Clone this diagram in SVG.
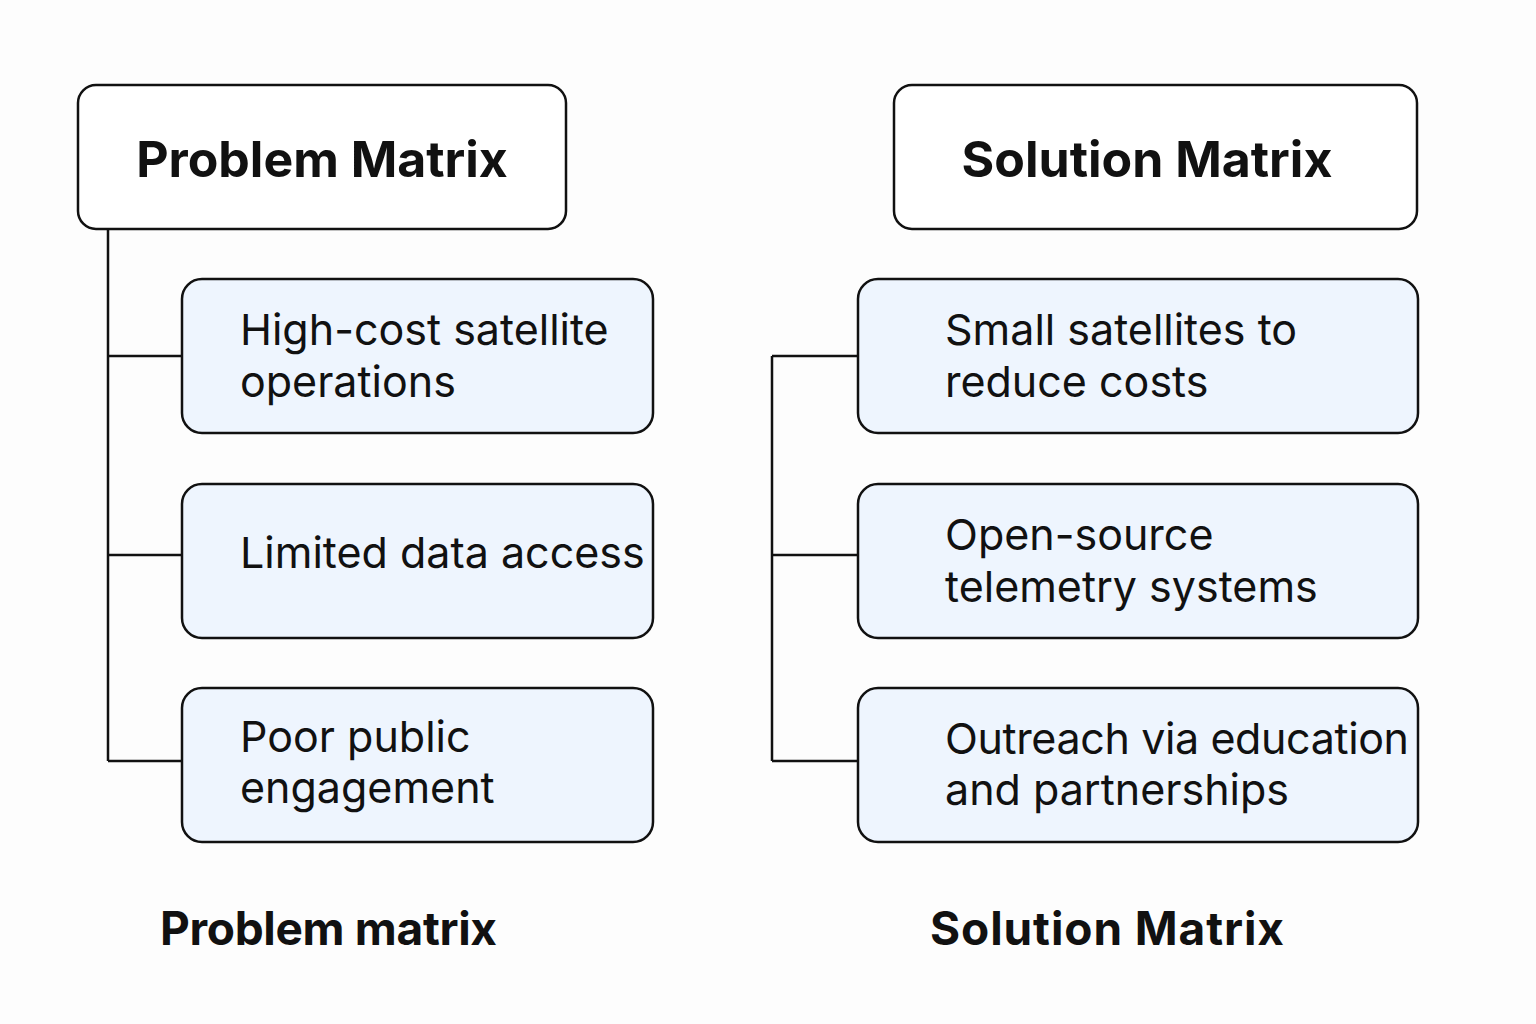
<svg xmlns="http://www.w3.org/2000/svg" width="1536" height="1024" viewBox="0 0 1536 1024">
<style>
.head{fill:#ffffff;stroke:#111;stroke-width:2.5}
.item{fill:#eef5fe;stroke:#111;stroke-width:2.5}
.conn{fill:none;stroke:#111;stroke-width:2.5}
.t{font-family:Inter,"Liberation Sans",sans-serif;font-size:43px;fill:#111}
.h{font-family:Inter,"Liberation Sans",sans-serif;font-size:50px;font-weight:700;fill:#111}
.b{font-family:Inter,"Liberation Sans",sans-serif;font-size:46px;font-weight:700;fill:#111}
</style>
<rect width="1536" height="1024" fill="#fdfdfd"/>
<g id="connectors">
<path class="conn" d="M108 229 V761 M108 356 H182 M108 555 H182 M108 761 H182"/>
<path class="conn" d="M772 356 V761 M772 356 H858 M772 555 H858 M772 761 H858"/>
</g>
<g id="problem-head">
<rect class="head" x="78" y="85" width="488" height="144" rx="18"/>
<text class="h" x="322" y="177" text-anchor="middle">Problem Matrix</text>
</g>
<g id="solution-head">
<rect class="head" x="894" y="85" width="523" height="144" rx="18"/>
<text class="h" x="1147" y="177" text-anchor="middle">Solution Matrix</text>
</g>
<g id="p1">
<rect class="item" x="182" y="279" width="471" height="154" rx="20"/>
<text class="t" x="240" y="345">High-cost satellite</text>
<text class="t" x="240" y="397">operations</text>
</g>
<g id="p2">
<rect class="item" x="182" y="484" width="471" height="154" rx="20"/>
<text class="t" x="240" y="568">Limited data access</text>
</g>
<g id="p3">
<rect class="item" x="182" y="688" width="471" height="154" rx="20"/>
<text class="t" x="240" y="752">Poor public</text>
<text class="t" x="240" y="803">engagement</text>
</g>
<g id="s1">
<rect class="item" x="858" y="279" width="560" height="154" rx="20"/>
<text class="t" x="945" y="345">Small satellites to</text>
<text class="t" x="945" y="397">reduce costs</text>
</g>
<g id="s2">
<rect class="item" x="858" y="484" width="560" height="154" rx="20"/>
<text class="t" x="945" y="550">Open-source</text>
<text class="t" x="945" y="602">telemetry systems</text>
</g>
<g id="s3">
<rect class="item" x="858" y="688" width="560" height="154" rx="20"/>
<text class="t" x="945" y="754" textLength="464">Outreach via education</text>
<text class="t" x="945" y="805">and partnerships</text>
</g>
<g id="captions">
<text class="b" x="160" y="945" textLength="337">Problem matrix</text>
<text class="b" x="930" y="945" textLength="354">Solution Matrix</text>
</g>
</svg>
